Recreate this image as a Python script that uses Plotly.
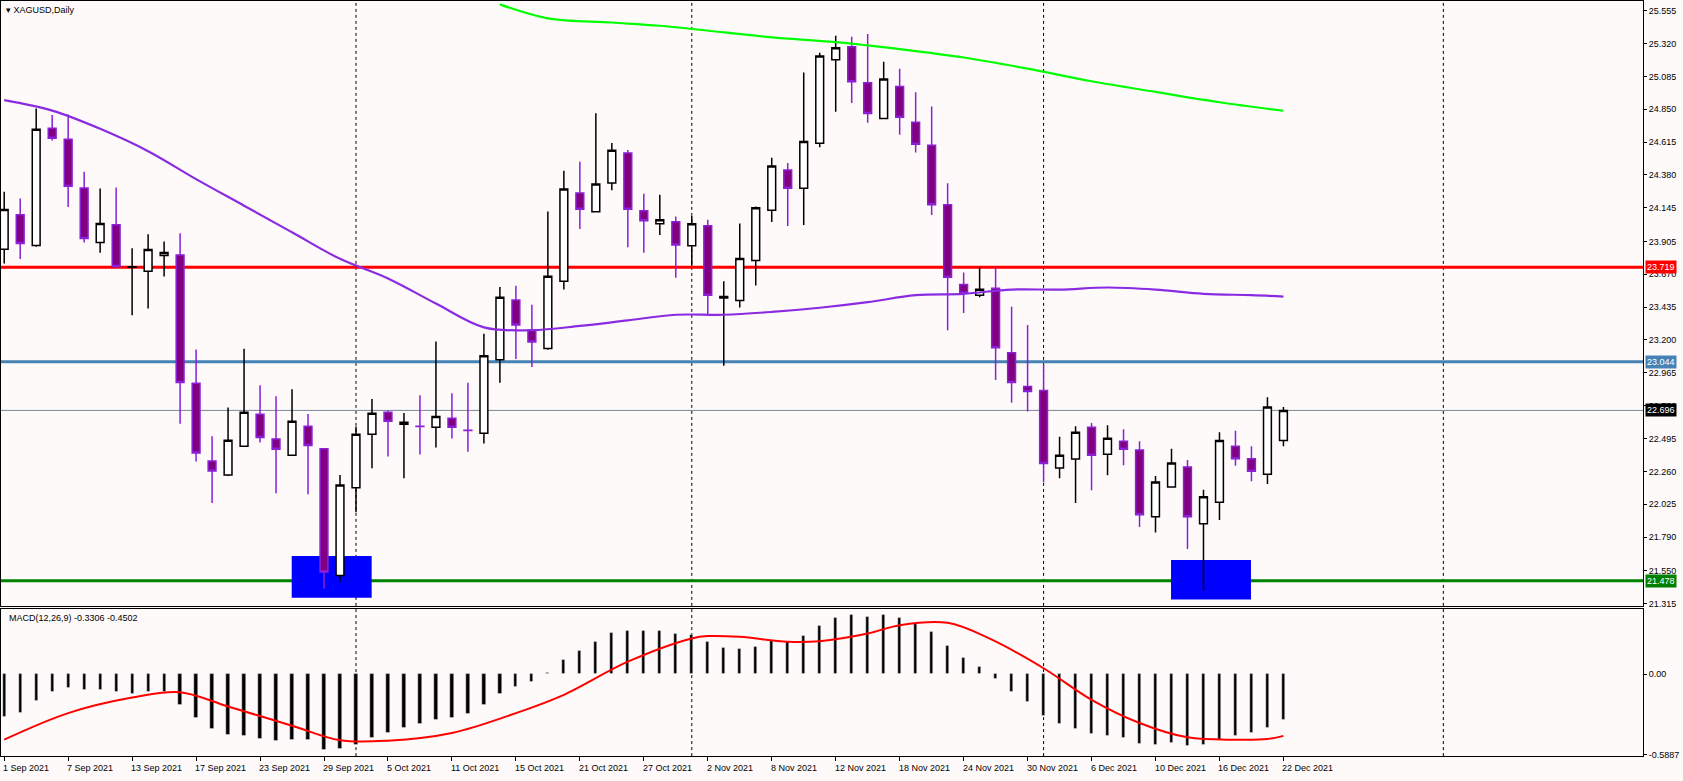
import plotly.graph_objects as go
import pandas as pd

# ---------------- data ----------------
dates = pd.bdate_range("2021-09-01", "2021-12-22")
opens = [23.849,24.096,23.875,24.714,24.635,24.287,23.897,24.024,23.719,23.691,23.804,23.807,22.890,22.334,22.234,22.440,22.668,22.492,22.376,22.582,
         22.421,21.516,22.142,22.526,22.682,22.597,22.582,22.575,22.639,22.554,22.533,23.058,23.485,23.271,23.139,23.619,24.251,24.116,24.322,24.536,
         24.123,24.031,24.045,23.874,24.017,23.500,23.482,23.768,24.128,24.415,24.284,24.606,25.204,25.296,25.040,24.784,25.012,24.756,24.593,24.167,
         23.596,23.520,23.570,23.108,22.867,22.838,22.284,22.348,22.575,22.383,22.476,22.412,21.936,22.149,22.291,21.886,22.040,22.440,22.350,22.240,22.480]
highs = [24.259,24.212,24.856,24.808,24.813,24.403,24.283,24.290,23.856,23.956,23.904,23.963,23.132,22.511,22.717,23.137,22.876,22.798,22.848,22.670,
         22.421,22.234,22.580,22.777,22.696,22.677,22.805,23.189,22.819,22.893,23.245,23.579,23.587,23.451,24.119,24.410,24.474,24.822,24.609,24.559,
         24.246,24.239,24.083,24.086,24.060,23.620,24.033,24.154,24.502,24.465,25.113,25.253,25.376,25.369,25.388,25.189,25.139,24.972,24.869,24.320,
         23.683,23.719,23.719,23.437,23.307,23.023,22.507,22.582,22.606,22.589,22.561,22.476,22.227,22.421,22.341,22.128,22.540,22.550,22.440,22.790,22.720]
lows = [23.747,23.778,23.866,24.626,24.150,23.897,23.823,23.714,23.376,23.425,23.653,22.601,22.331,22.033,22.227,22.440,22.466,22.104,22.376,22.097,
        21.421,21.469,21.967,22.282,22.367,22.211,22.381,22.431,22.495,22.400,22.459,22.893,23.063,23.006,23.130,23.560,23.993,24.116,24.270,23.862,
        23.823,23.950,23.645,23.730,23.377,23.016,23.432,23.589,24.043,24.014,24.022,24.578,24.832,24.895,24.754,24.784,24.668,24.540,24.093,23.269,
        23.392,23.506,22.914,22.751,22.689,22.182,22.211,22.033,22.125,22.232,22.303,21.862,21.822,22.142,21.704,21.410,21.912,22.300,22.190,22.170,22.440]
closes = [24.133,23.889,24.706,24.643,24.299,23.925,24.032,23.726,23.724,23.847,23.825,22.895,22.391,22.263,22.483,22.682,22.502,22.419,22.618,22.445,
          21.540,22.163,22.526,22.675,22.618,22.611,22.580,22.653,22.575,22.552,23.087,23.506,23.307,23.186,23.655,24.280,24.135,24.315,24.557,24.135,
          24.052,24.059,23.879,24.031,23.520,23.510,23.782,24.145,24.443,24.284,24.620,25.231,25.289,25.047,24.820,25.066,24.792,24.600,24.167,23.648,
          23.534,23.563,23.144,22.895,22.831,22.317,22.376,22.540,22.376,22.497,22.419,21.950,22.184,22.320,21.936,22.078,22.480,22.350,22.260,22.720,22.696]

ma_slow_idx = [0,3,6,9,12,15,18,21,24,27,30,33,36,39,42,45,48,51,54,57,60,63,66,69,72,75,78,80]
ma_slow_val = [24.915,24.84,24.71,24.55,24.35,24.16,23.97,23.78,23.64,23.46,23.29,23.27,23.30,23.34,23.38,23.38,23.40,23.43,23.47,23.52,23.53,23.56,23.56,23.575,23.56,23.53,23.52,23.51]
ma_long_idx = [31,34,38,41,45,48,52,56,60,64,68,72,76,80]
ma_long_val = [25.60,25.50,25.47,25.447,25.40,25.364,25.33,25.28,25.22,25.14,25.05,24.974,24.90,24.839]

macd_hist = [-0.308,-0.283,-0.196,-0.131,-0.102,-0.111,-0.111,-0.131,-0.145,-0.126,-0.131,-0.225,-0.320,-0.400,-0.444,-0.453,-0.473,-0.487,-0.480,-0.480,
             -0.553,-0.543,-0.514,-0.468,-0.429,-0.393,-0.364,-0.334,-0.315,-0.291,-0.225,-0.145,-0.094,-0.058,0.007,0.104,0.172,0.237,0.303,0.315,
             0.315,0.315,0.296,0.286,0.237,0.194,0.186,0.201,0.242,0.237,0.281,0.354,0.412,0.434,0.419,0.434,0.412,0.371,0.310,0.209,
             0.121,0.056,-0.036,-0.126,-0.204,-0.301,-0.364,-0.402,-0.439,-0.453,-0.468,-0.509,-0.519,-0.504,-0.526,-0.519,-0.480,-0.453,-0.431,-0.395,-0.331]
signal_idx = [0,4,8,11,14,18,21,24,28,32,35,39,43,44,46,49,51,54,56,59,61.6,65,68,71,74,77,79,80]
signal_val = [-0.478,-0.284,-0.170,-0.131,-0.235,-0.376,-0.482,-0.485,-0.429,-0.284,-0.150,0.092,0.262,0.279,0.274,0.238,0.242,0.298,0.359,0.376,0.262,0.044,-0.187,-0.356,-0.461,-0.478,-0.473,-0.450]

level_prices = [23.719, 23.044, 22.696, 21.478]
level_colors = ["#ff0000", "#4682b4", "#778899", "#008000"]
level_widths = [3, 3, 1, 3]
tag_colors = ["#ff0000", "#4682b4", "#000000", "#008000"]

zone_x0 = [17.98, 72.97]
zone_x1 = [22.98, 77.97]
zone_y0 = [21.357, 21.343]
zone_y1 = [21.655, 21.626]

separators = [22, 43, 65, 90]
price_ticks = [25.555,25.320,25.085,24.850,24.615,24.380,24.145,23.905,23.670,23.435,23.200,22.965,22.730,22.495,22.260,22.025,21.790,21.550,21.315]
date_tick_idx = list(range(0, 81, 4))
date_tick_text = [f"{d.day} {d.strftime('%b %Y')}" for d in dates[date_tick_idx]]

# ---------------- figure ----------------
W, H = 1683, 781
xr = [-0.2, -0.2 + 1643 / 16]
FONT = "Liberation Sans"
FS = 9
fig = go.Figure()
idx = list(range(len(opens)))

fig.add_trace(go.Candlestick(x=idx, open=opens, high=highs, low=lows, close=closes,
    increasing=dict(line=dict(color="black", width=1.5), fillcolor="white"),
    decreasing=dict(line=dict(color="#8b1fd6", width=1.5), fillcolor="#800080"),
    whiskerwidth=0, xaxis="x", yaxis="y", showlegend=False))
fig.add_trace(go.Scatter(x=ma_slow_idx, y=ma_slow_val, mode="lines", line=dict(color="#8a2be2", width=2.2, shape="spline"), xaxis="x", yaxis="y", showlegend=False))
fig.add_trace(go.Scatter(x=ma_long_idx, y=ma_long_val, mode="lines", line=dict(color="#00ff00", width=2.2, shape="spline"), xaxis="x", yaxis="y", showlegend=False))

fig.add_trace(go.Bar(x=idx, y=macd_hist, marker_color="black", width=0.2, xaxis="x2", yaxis="y2", showlegend=False))
fig.add_trace(go.Scatter(x=signal_idx, y=signal_val, mode="lines", line=dict(color="#ff0000", width=2, shape="spline"), xaxis="x2", yaxis="y2", showlegend=False))

shapes = []
for p, c, w in zip(level_prices, level_colors, level_widths):
    shapes.append(dict(type="line", xref="x", yref="y", x0=xr[0], x1=xr[1], y0=p, y1=p, line=dict(color=c, width=w), layer="below"))
for a, b, c, d in zip(zone_x0, zone_x1, zone_y0, zone_y1):
    shapes.append(dict(type="rect", xref="x", yref="y", x0=a, x1=b, y0=c, y1=d, fillcolor="#0000ff", line=dict(width=0), layer="below"))
for s in separators:
    for ya in ["y", "y2"]:
        shapes.append(dict(type="line", xref="x", yref=f"{ya} domain", x0=s, x1=s, y0=0, y1=1, line=dict(color="black", width=1, dash="dot"), layer="below"))

ann = []
for p, c in zip(level_prices, tag_colors):
    ann.append(dict(xref="paper", yref="y", x=1645/W, y=p, text=f"{p:.3f}", showarrow=False, xanchor="left",
                    font=dict(family=FONT, size=FS, color="white"), bgcolor=c, borderpad=1))
for i, t in zip(date_tick_idx, date_tick_text):
    ann.append(dict(xref="x2", yref="paper", x=i, y=0, text=t, showarrow=False, xanchor="left", yanchor="bottom", xshift=-3, yshift=2,
                    font=dict(family=FONT, size=FS, color="black")))
ann.append(dict(xref="paper", yref="paper", x=3/W, y=1-3/H, text="▾ XAGUSD,Daily", showarrow=False, xanchor="left", yanchor="top",
                font=dict(family=FONT, size=FS, color="black")))
ann.append(dict(xref="paper", yref="paper", x=6/W, y=1-614/H, text="MACD(12,26,9) -0.3306 -0.4502", showarrow=False, xanchor="left", yanchor="top",
                font=dict(family=FONT, size=FS, color="black")))

ax_common = dict(showgrid=False, zeroline=False, showline=True, mirror=True, linecolor="black", linewidth=1)
fig.update_layout(
    width=W, height=H, margin=dict(l=0, r=0, t=0, b=0),
    paper_bgcolor="#fffafa", plot_bgcolor="#fffafa", bargap=0,
    shapes=shapes, annotations=ann,
    xaxis=dict(domain=[0, 1643/W], range=xr, anchor="y", showticklabels=False, rangeslider=dict(visible=False), **ax_common),
    xaxis2=dict(domain=[0, 1643/W], range=xr, anchor="y2", matches="x", tickvals=date_tick_idx, showticklabels=False,
                ticks="outside", ticklen=4, tickcolor="black", **ax_common),
    yaxis=dict(domain=[1-609/H, 1-1/H], range=[21.298, 25.624], side="right", tickvals=price_ticks,
               ticktext=[f"{v:.3f}" for v in price_ticks], ticks="outside", ticklen=3, tickcolor="black",
               tickfont=dict(family=FONT, size=FS, color="black"), **ax_common),
    yaxis2=dict(domain=[1-760/H, 1-612/H], range=[-0.598, 0.478], side="right", tickvals=[0.4803, 0.0, -0.5887],
                ticktext=["0.4803", "0.00", "-0.5887"], ticks="outside", ticklen=3, tickcolor="black",
                tickfont=dict(family=FONT, size=FS, color="black"), **ax_common),
)
fig.write_html("out.html", config={"displayModeBar": False},
               post_script="document.body.style.margin='0';document.body.style.overflow='hidden';")
